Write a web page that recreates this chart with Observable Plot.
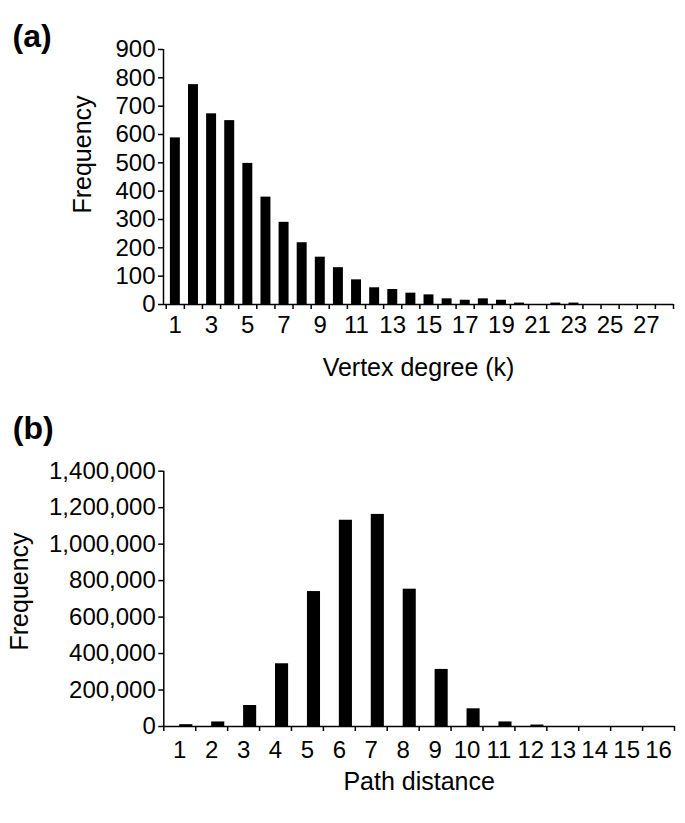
<!DOCTYPE html>
<html><head><meta charset="utf-8">
<script src="https://cdn.jsdelivr.net/npm/d3@7"></script>
<script src="https://cdn.jsdelivr.net/npm/@observablehq/plot@0.6"></script>
<style>
body{margin:0;background:#fff;}
#chart svg{display:block;}
</style>
</head><body><div id="chart"></div>
<script>
// Panel (a): vertex degree distribution
const degreeK = [1,2,3,4,5,6,7,8,9,10,11,12,13,14,15,16,17,18,19,20,21,22,23,24,25,26,27,28];
const degreeFreq = [588,776,673,649,498,379,290,218,167,130,87,59,53,40,34,20,15,20,15,5,0,5,5,0,0,0,0,0];
const degreeTickLabels = [1,3,5,7,9,11,13,15,17,19,21,23,25,27];
const degreeYTicks = [0,100,200,300,400,500,600,700,800,900];

// Panel (b): path distance distribution
const pathDist = [1,2,3,4,5,6,7,8,9,10,11,12,13,14,15,16];
const pathFreq = [10000,25000,115000,344000,740000,1131000,1163000,753000,313000,97000,25000,8000,0,0,0,0];
const pathTickLabels = [1,2,3,4,5,6,7,8,9,10,11,12,13,14,15,16];
const pathYTicks = [0,200000,400000,600000,800000,1000000,1200000,1400000];

const FONT = '"Liberation Sans", Arial, Helvetica, sans-serif';
const style = {fontFamily: FONT, fontSize: "24px", color: "black", background: "white", overflow: "visible"};

const degData = degreeK.map((k, i) => ({k, v: degreeFreq[i]}));
const degXDomain = [0.35, 28.5];
const plotA = Plot.plot({
  width: 685, height: 395,
  marginTop: 49, marginBottom: 91, marginLeft: 163, marginRight: 12,
  style,
  x: {domain: degXDomain, axis: null},
  y: {domain: [0, 900], axis: null},
  marks: [
    Plot.rectY(degData, {x1: d => d.k - 0.27, x2: d => d.k + 0.28, y: "v", fill: "black"}),
    Plot.axisY({ticks: degreeYTicks, tickSize: 5, tickPadding: 3, label: null, fontSize: 24, strokeWidth: 1.5}),
    Plot.axisX({ticks: d3.range(0.5, 29, 1), tickSize: 5, tickFormat: () => "", label: null, strokeWidth: 1.5}),
    Plot.axisX({ticks: degreeTickLabels, tickSize: 0, tickPadding: 11, label: null, fontSize: 24}),
    Plot.ruleY([0], {strokeWidth: 1.5}),
    Plot.ruleX([degXDomain[0]], {strokeWidth: 1.5}),
    Plot.text(["Frequency"], {text: d => d, frameAnchor: "left", textAnchor: "middle", lineAnchor: "middle", rotate: -90, dx: -81, dy: -22.5, fontSize: 25}),
    Plot.text(["Vertex degree (k)"], {text: d => d, frameAnchor: "bottom", textAnchor: "middle", lineAnchor: "middle", dy: 63, fontSize: 25}),
    Plot.text(["(a)"], {text: d => d, frameAnchor: "top-left", textAnchor: "start", lineAnchor: "middle", dx: -151, dy: -13, fontSize: 32, fontWeight: "bold"})
  ]
});

const pathData = pathDist.map((k, i) => ({k, v: pathFreq[i]}));
const pathXDomain = [0.5, 16.5];
const plotB = Plot.plot({
  width: 685, height: 428,
  marginTop: 75.7, marginBottom: 97, marginLeft: 163.3, marginRight: 11,
  style,
  x: {domain: pathXDomain, axis: null},
  y: {domain: [0, 1400000], axis: null},
  marks: [
    Plot.rectY(pathData, {x1: d => d.k, x2: d => d.k + 0.41, y: "v", fill: "black"}),
    Plot.axisY({ticks: pathYTicks, tickFormat: d3.format(","), tickSize: 5, tickPadding: 3, label: null, fontSize: 24, strokeWidth: 1.5}),
    Plot.axisX({ticks: d3.range(0.5, 17, 1), tickSize: 5, tickFormat: () => "", label: null, strokeWidth: 1.5}),
    Plot.axisX({ticks: pathTickLabels, tickSize: 0, tickPadding: 14, label: null, fontSize: 24}),
    Plot.ruleY([0], {strokeWidth: 1.5}),
    Plot.ruleX([pathXDomain[0]], {strokeWidth: 1.5}),
    Plot.text(["Frequency"], {text: d => d, frameAnchor: "left", textAnchor: "middle", lineAnchor: "middle", rotate: -90, dx: -143.4, dy: -7.4, fontSize: 25}),
    Plot.text(["Path distance"], {text: d => d, frameAnchor: "bottom", textAnchor: "middle", lineAnchor: "middle", dy: 55, fontSize: 25}),
    Plot.text(["(b)"], {text: d => d, frameAnchor: "top-left", textAnchor: "start", lineAnchor: "middle", dx: -151, dy: -42.6, fontSize: 32, fontWeight: "bold"})
  ]
});

document.getElementById("chart").append(plotA, plotB);
</script>
</body></html>
